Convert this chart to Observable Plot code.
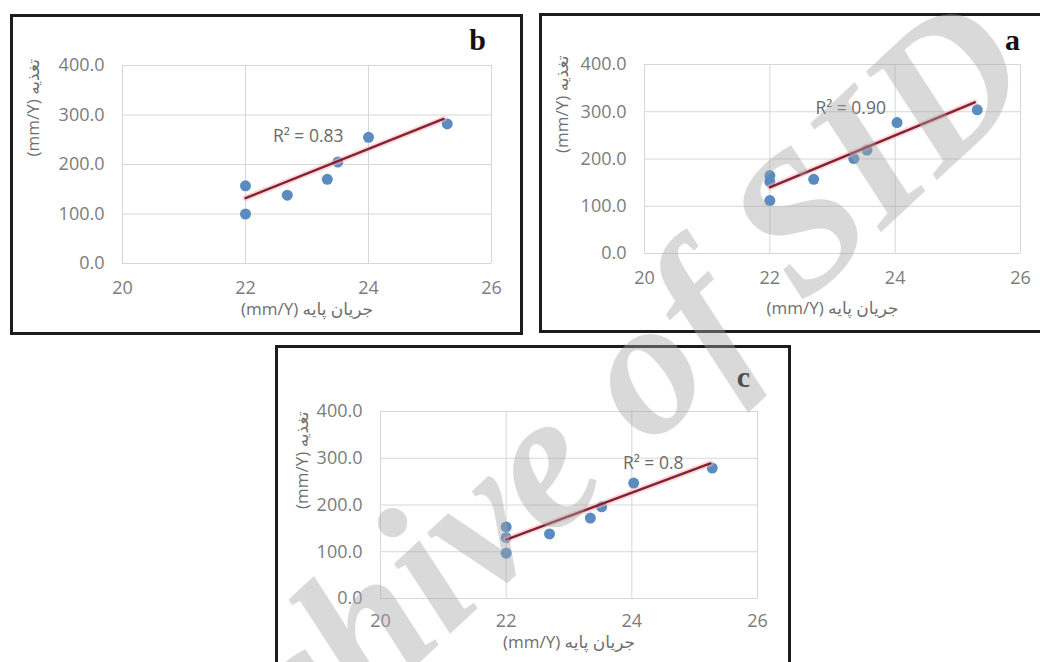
<!DOCTYPE html>
<html><head><meta charset="utf-8">
<script src="https://cdn.jsdelivr.net/npm/d3@7"></script>
<script src="https://cdn.jsdelivr.net/npm/@observablehq/plot@0.6"></script>
<style>
body{margin:0;background:#fff;}
#page{position:relative;width:1040px;height:662px;overflow:hidden;background:#fff;}
.box{position:absolute;border:3px solid #1c1c1c;box-sizing:border-box;}
.panel{position:absolute;}
#wm{position:absolute;left:0;top:0;width:1040px;height:662px;pointer-events:none;}
</style></head><body><div id="page"></div>
<script>
// ---- shared axis data ----
const xTicks = [20, 22, 24, 26];
const yTicks = [0, 100, 200, 300, 400];
const xTitle = "(mm/Y) جریان پایه";
const yTitle = "(mm/Y) تغذیه";

// ---- panel b ----
const xB = [22, 22, 22.68, 23.33, 23.5, 24, 25.28];
const yB = [157, 100, 138, 170, 205, 255, 282];
const trendXB = [22, 25.22];
const trendYB = [132, 292];
const r2B = "R² = 0.83";

// ---- panel a ----
const xA = [22, 22, 22, 22.7, 23.34, 23.55, 24.03, 25.31];
const yA = [165, 152, 112, 157, 201, 219, 277, 304];
const trendXA = [22, 25.27];
const trendYA = [140, 320];
const r2A = "R² = 0.90";

// ---- panel c ----
const xC = [22, 22, 22, 22.69, 23.34, 23.52, 24.03, 25.28];
const yC = [153, 130, 97, 138, 172, 196, 247, 279];
const trendXC = [22, 25.25];
const trendYC = [126, 289];
const r2C = "R² = 0.8";

const watermark = "Archive of SID";

const page = document.getElementById("page");

function box(l, t, r, b) {
  const d = document.createElement("div");
  d.className = "box";
  Object.assign(d.style, {left: l + "px", top: t + "px", width: (r - l) + "px", height: (b - t) + "px"});
  page.appendChild(d);
}

function panel(cfg) {
  const pts = cfg.xs.map((x, i) => ({x, y: cfg.ys[i]}));
  const trend = cfg.tx.map((x, i) => ({x, y: cfg.ty[i]}));
  const svg = Plot.plot({
    width: cfg.w, height: cfg.h,
    marginLeft: cfg.ml, marginRight: cfg.mr, marginTop: cfg.mt, marginBottom: cfg.mb,
    x: {domain: [20, 26]},
    y: {domain: [0, 400]},
    style: {background: "transparent", color: "#7c7c7c", fontFamily: "'Open Sans','DejaVu Sans',sans-serif", fontSize: "18px", overflow: "visible"},
    marks: [
      Plot.gridX(xTicks, {stroke: "#d6d6d6", strokeOpacity: 1, strokeWidth: 1}),
      Plot.gridY(yTicks, {stroke: "#d6d6d6", strokeOpacity: 1, strokeWidth: 1}),
      Plot.axisX(xTicks, {tickSize: 0, tickPadding: cfg.xPad, label: null}),
      Plot.axisY(yTicks, {tickSize: 0, tickPadding: 18, tickFormat: d3.format(".1f"), label: null}),
      Plot.dot(pts, {x: "x", y: "y", r: 5.5, fill: "#5a8cc0"}),
      Plot.line(trend, {x: "x", y: "y", stroke: "#f2b8be", strokeWidth: 6, strokeOpacity: 0.55}),
      Plot.line(trend, {x: "x", y: "y", stroke: "#86202f", strokeWidth: 2.4}),
      Plot.text([{x: cfg.r2x, y: cfg.r2y, t: cfg.r2}], {x: "x", y: "y", text: "t", fill: "#6a6a6a", fontSize: 17.5, fontFamily: "'Open Sans',sans-serif"}),
      Plot.text([xTitle], {text: d => d, frameAnchor: "bottom", dy: cfg.xtDy, fill: "#6e6e6e", fontSize: 17}),
      Plot.text([yTitle], {text: d => d, frameAnchor: "left", dx: cfg.ytDx, dy: cfg.ytDy, rotate: -90, fill: "#6e6e6e", fontSize: 17}),
      Plot.text([cfg.letter], {text: d => d, frameAnchor: "top-right", dx: cfg.lDx, dy: cfg.lDy, textAnchor: "middle", lineAnchor: "middle",
        fontFamily: "'Liberation Serif',serif", fontWeight: "bold", fontSize: 30, fill: "#111"})
    ]
  });
  const holder = document.createElement("div");
  holder.className = "panel";
  Object.assign(holder.style, {left: cfg.left + "px", top: cfg.top + "px"});
  holder.appendChild(svg);
  page.appendChild(holder);
}

// boxes
box(10, 14, 523, 335);
box(539, 13, 1060, 333);
box(275, 345, 791, 690);

panel({letter: "b", xs: xB, ys: yB, tx: trendXB, ty: trendYB, r2: r2B, r2x: 23.02, r2y: 256,
  left: 12, top: 15, w: 509, h: 318, ml: 110, mr: 30, mt: 50, mb: 70, xPad: 18,
  xtDy: 51, ytDx: -89, ytDy: -8, lDx: -14, lDy: -25});
panel({letter: "a", xs: xA, ys: yA, tx: trendXA, ty: trendYA, r2: r2A, r2x: 23.29, r2y: 307,
  left: 541, top: 14, w: 499, h: 318, ml: 103, mr: 20, mt: 50, mb: 79, xPad: 18,
  xtDy: 60, ytDx: -82, ytDy: -6, lDx: -8, lDy: -24});
panel({letter: "c", xs: xC, ys: yC, tx: trendXC, ty: trendYC, r2: r2C, r2x: 24.34, r2y: 289,
  left: 276, top: 346, w: 514, h: 316, ml: 104, mr: 33, mt: 65, mb: 64, xPad: 16,
  xtDy: 49, ytDx: -78, ytDy: 4, lDx: -14, lDy: -34});

// watermark
const wm = d3.select(page).append("svg").attr("id", "wm").attr("width", 1040).attr("height", 662);
wm.append("text")
  .attr("transform", "translate(597,497) rotate(-43)")
  .attr("text-anchor", "middle")
  .attr("font-family", "'Liberation Serif',serif")
  .attr("font-weight", "bold")
  .attr("font-style", "italic")
  .attr("font-size", 195)
  .attr("fill", "rgba(165,165,165,0.42)")
  .text(watermark);
</script>
</body></html>
